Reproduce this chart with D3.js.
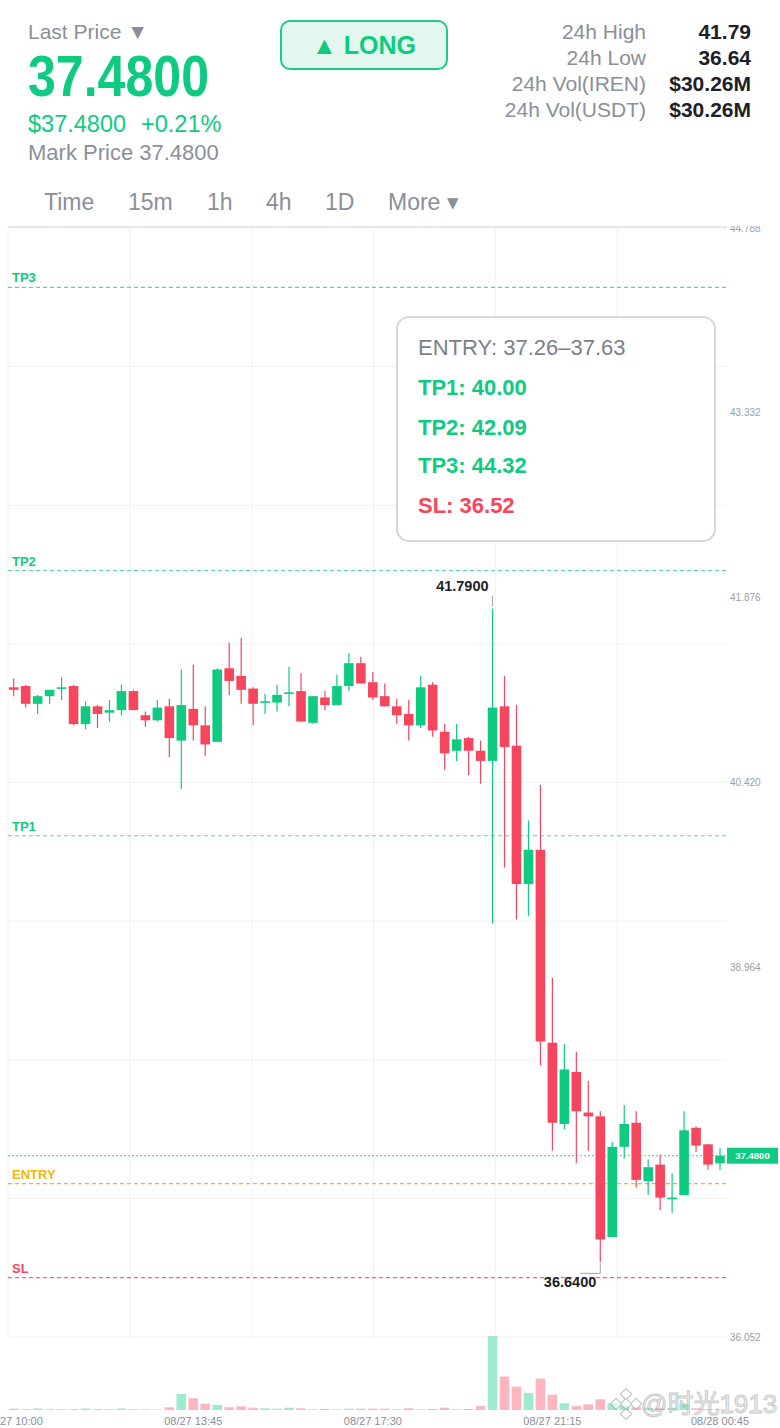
<!DOCTYPE html>
<html>
<head>
<meta charset="utf-8">
<script src="https://cdn.jsdelivr.net/npm/d3@7"></script>
<style>
  body { margin: 0; background: #fff; }
  svg { display: block; font-family: "Liberation Sans", Arial, "Noto Sans CJK SC", sans-serif; }
</style>
</head>
<body>
<svg id="chart"></svg>
<script>
var w = 780;
var h = 1428;

// 15m candles, 08/27 10:00 -> 08/28 00:45
var opens  = [41.17,41.18,41.04,41.10,41.16,41.18,40.88,41.02,40.97,40.99,41.14,40.95,40.91,41.02,40.75,41.00,40.87,40.74,41.32,41.26,
              41.16,41.05,41.05,41.12,41.14,40.89,41.09,41.03,41.18,41.36,41.21,41.10,41.02,40.96,40.87,41.19,40.82,40.67,40.77,40.67,
              40.59,41.02,40.71,39.62,39.89,38.37,37.73,38.14,37.82,37.79,36.84,37.55,37.74,37.28,37.41,37.14,37.17,37.70,37.57,37.42];
var highs  = [41.24,41.19,41.11,41.15,41.25,41.19,41.06,41.03,41.07,41.19,41.15,40.98,41.07,41.08,41.31,41.35,41.02,41.32,41.52,41.56,
              41.17,41.12,41.19,41.33,41.28,41.10,41.14,41.27,41.44,41.41,41.29,41.20,41.08,41.07,41.26,41.21,40.88,40.88,40.78,40.75,
              41.79,41.26,41.03,40.12,40.40,38.88,38.36,38.30,38.07,37.83,37.59,37.88,37.83,37.45,37.49,37.34,37.83,37.71,37.57,37.54];
var lows   = [41.10,41.01,40.96,41.04,41.07,40.87,40.84,40.85,40.90,40.95,40.99,40.86,40.90,40.62,40.37,40.75,40.63,40.74,41.11,41.04,
              40.87,40.96,40.98,41.02,40.90,40.88,40.99,41.03,41.14,41.20,41.07,41.02,40.88,40.75,40.85,40.78,40.52,40.59,40.48,40.41,
              39.31,39.75,39.34,39.37,38.19,37.52,37.69,37.42,37.52,36.64,36.84,37.46,37.23,37.17,37.05,37.03,37.17,37.51,37.37,37.37];
var closes = [41.15,41.04,41.10,41.15,41.17,40.88,41.02,40.96,40.99,41.14,40.99,40.91,41.01,40.77,41.03,40.87,40.72,41.31,41.22,41.15,
              41.04,41.06,41.11,41.13,40.90,41.10,41.03,41.18,41.36,41.20,41.09,41.02,40.95,40.87,41.17,40.83,40.65,40.76,40.67,40.59,
              41.01,40.70,39.62,39.89,38.38,37.74,38.16,37.83,37.79,36.82,37.55,37.73,37.29,37.39,37.15,37.15,37.68,37.56,37.41,37.48];
var volumes = [13,8,15,8,8,8,15,8,8,15,8,6,6,27,160,117,63,50,27,37,
               23,17,13,23,17,7,10,7,13,13,13,13,7,17,7,10,23,7,10,40,
               737,333,233,170,313,153,67,40,57,107,67,40,27,23,17,17,63,17,10,8];

var timeLabels = ["08/27 10:00", "08/27 13:45", "08/27 17:30", "08/27 21:15", "08/28 00:45"];
var timeLabelIndex = [0, 15, 30, 45, 59];
// 37.508 sits under the last-price tag in the original, so it is left out
var priceTicks = [44.788, 43.332, 41.876, 40.420, 38.964, 36.052];
var levelNames = ["TP3", "TP2", "TP1", "ENTRY", "SL"];
var levelValues = [44.32, 42.09, 40.00, 37.26, 36.52];
var lastPrice = 37.48;
var boxLines = ["ENTRY: 37.26\u201337.63", "TP1: 40.00", "TP2: 42.09", "TP3: 44.32", "SL: 36.52"];
var statLabels = ["24h High", "24h Low", "24h Vol(IREN)", "24h Vol(USDT)"];
var statValues = ["41.79", "36.64", "$30.26M", "$30.26M"];
var tabs = ["Time", "15m", "1h", "4h", "1D", "More \u25BE"];
var tabX = [44, 128, 207, 266, 325, 388];

var green = "#0ecb81", red = "#f6465d", yellow = "#f0b90b", grey = "#8a8f99", dark = "#1e2026";

var svg = d3.select("#chart").attr("width", w).attr("height", h);

var x = d3.scaleLinear().domain([0, opens.length - 1]).range([13.7, 720]);
var y = d3.scaleLinear().domain([36.052, 44.788]).range([1337, 228]);
var yv = d3.scaleLinear().domain([0, d3.max(volumes)]).range([1410, 1336]);
var gx = d3.scaleLinear().domain([0, 6]).range([8, 739]);
var plotRight = 727;
var bodyW = 9.6;

var idx = d3.range(opens.length);
var isUp = i => closes[i] >= opens[i];

// grid
var grid = svg.append("g");
grid.selectAll(".hg")
    .data(d3.range(9).map(k => 36.052 + k * (44.788 - 36.052) / 8))
    .enter().append("line")
    .attr("x1", 8).attr("x2", plotRight)
    .attr("y1", d => y(d)).attr("y2", d => y(d))
    .style("stroke", "#f0f1f3").style("stroke-width", 1);
grid.selectAll(".vg")
    .data(d3.range(6))
    .enter().append("line")
    .attr("x1", d => gx(d)).attr("x2", d => gx(d))
    .attr("y1", 228).attr("y2", 1337)
    .style("stroke", "#f0f1f3").style("stroke-width", 1);

// right price axis
svg.append("g").selectAll("text")
    .data(priceTicks)
    .enter().append("text")
    .attr("x", 730).attr("y", d => y(d) + 3.5)
    .style("font-size", "10px").style("fill", "#9a9ea6")
    .text(d => d.toFixed(3));

// volume
svg.append("g").selectAll("rect")
    .data(idx)
    .enter().append("rect")
    .attr("x", i => x(i) - bodyW / 2)
    .attr("width", bodyW)
    .attr("y", i => yv(volumes[i]))
    .attr("height", i => yv(0) - yv(volumes[i]))
    .style("fill", i => isUp(i) ? "#9febcf" : "#fdb6c0");

// level lines
var levels = svg.append("g");
var levelColor = n => n === "ENTRY" ? yellow : (n === "SL" ? red : "#3fcf98");
var levelText = n => n === "ENTRY" ? "#f0b90b" : (n === "SL" ? red : green);
levels.selectAll("line")
    .data(levelNames)
    .enter().append("line")
    .attr("x1", 8).attr("x2", plotRight)
    .attr("y1", (d, i) => y(levelValues[i])).attr("y2", (d, i) => y(levelValues[i]))
    .style("stroke", levelColor)
    .style("stroke-width", d => d === "ENTRY" ? 1.4 : 1.1)
    .style("stroke-dasharray", "4,3")
    .style("opacity", d => d === "ENTRY" ? 1 : 0.85);
levels.selectAll("text")
    .data(levelNames)
    .enter().append("text")
    .attr("x", 12).attr("y", (d, i) => y(levelValues[i]) - 5)
    .style("font-size", "13px").style("font-weight", "bold")
    .style("fill", levelText)
    .text(d => d);

// last price line
svg.append("line")
    .attr("x1", 8).attr("x2", plotRight)
    .attr("y1", y(lastPrice)).attr("y2", y(lastPrice))
    .style("stroke", "#3fcf98").style("stroke-width", 1)
    .style("stroke-dasharray", "2,2");

// candles
var candles = svg.append("g").selectAll("g")
    .data(idx)
    .enter().append("g");
candles.append("line")
    .attr("x1", i => x(i)).attr("x2", i => x(i))
    .attr("y1", i => y(highs[i])).attr("y2", i => y(lows[i]))
    .style("stroke", i => isUp(i) ? green : red)
    .style("stroke-width", 1.2);
candles.append("rect")
    .attr("x", i => x(i) - bodyW / 2)
    .attr("width", bodyW)
    .attr("y", i => y(Math.max(opens[i], closes[i])))
    .attr("height", i => Math.max(1.6, Math.abs(y(opens[i]) - y(closes[i]))))
    .style("fill", i => isUp(i) ? green : red);

// high / low markers
var hi = d3.maxIndex(highs), lo = d3.minIndex(lows);
svg.append("line")
    .attr("x1", x(hi)).attr("x2", x(hi))
    .attr("y1", y(highs[hi]) - 13).attr("y2", y(highs[hi]) - 2)
    .style("stroke", "#a0a4aa").style("stroke-width", 1);
svg.append("text")
    .attr("x", x(hi) - 4).attr("y", y(highs[hi]) - 18)
    .attr("text-anchor", "end")
    .style("font-size", "14.5px").style("font-weight", "bold").style("fill", dark)
    .text(highs[hi].toFixed(4));
svg.append("path")
    .attr("d", d3.line()([[x(lo), y(lows[lo]) + 1], [x(lo), y(lows[lo]) + 11], [x(lo) - 20, y(lows[lo]) + 11]]))
    .style("fill", "none").style("stroke", "#a0a4aa").style("stroke-width", 1);
svg.append("text")
    .attr("x", x(lo) - 4).attr("y", y(lows[lo]) + 25)
    .attr("text-anchor", "end")
    .style("font-size", "14.5px").style("font-weight", "bold").style("fill", dark)
    .text(lows[lo].toFixed(4));

// last price tag
svg.append("rect")
    .attr("x", plotRight).attr("y", y(lastPrice) - 8)
    .attr("width", 51).attr("height", 16)
    .style("fill", green);
svg.append("text")
    .attr("x", plotRight + 25.5).attr("y", y(lastPrice) + 3.5)
    .attr("text-anchor", "middle")
    .style("font-size", "9.5px").style("font-weight", "bold").style("fill", "#fff")
    .text(lastPrice.toFixed(4));

// time axis
svg.append("g").selectAll("text")
    .data(timeLabels)
    .enter().append("text")
    .attr("x", (d, i) => x(timeLabelIndex[i])).attr("y", 1425)
    .attr("text-anchor", "middle")
    .style("font-size", "11px").style("fill", grey)
    .text(d => d);

// info box
var box = svg.append("g");
box.append("rect")
    .attr("x", 397).attr("y", 317).attr("width", 318).attr("height", 224)
    .attr("rx", 12)
    .style("fill", "#fff").style("stroke", "#d4d7db").style("stroke-width", 2);
box.selectAll("text")
    .data(boxLines)
    .enter().append("text")
    .attr("x", 418)
    .attr("y", (d, i) => [355, 395, 435, 473, 513][i])
    .style("font-size", "22px")
    .style("font-weight", (d, i) => i === 0 ? "normal" : "bold")
    .style("fill", (d, i) => i === 0 ? "#7b808c" : (i === 4 ? red : green))
    .text(d => d);

// watermark
var wm = svg.append("g").style("opacity", 0.55);
var logo = wm.append("g").attr("transform", "translate(626,1404) rotate(45)");
[[-7, -7], [7, -7], [-7, 7], [7, 7], [0, 0]].forEach(function (p) {
    logo.append("rect")
        .attr("x", p[0] - 4).attr("y", p[1] - 4).attr("width", 8).attr("height", 8)
        .style("fill", "#fff").style("stroke", "#9aa0a6").style("stroke-width", 1.3);
});
wm.append("text")
    .attr("x", 641).attr("y", 1413)
    .style("font-size", "26px")
    .style("fill", "#e4e6e9").style("stroke", "#9aa0a6").style("stroke-width", 1)
    .text("@\u65F6\u51491913");

// header cover (clips the top of the chart)
svg.append("rect").attr("x", 0).attr("y", 0).attr("width", w).attr("height", 226).style("fill", "#fff");
svg.append("line")
    .attr("x1", 8).attr("x2", plotRight).attr("y1", 227).attr("y2", 227)
    .style("stroke", "#e6e8eb").style("stroke-width", 2);

var head = svg.append("g");
head.append("text").attr("x", 28).attr("y", 38.5)
    .style("font-size", "21px").style("fill", grey).text("Last Price \u25BC");
head.append("text").attr("x", 28).attr("y", 96)
    .attr("textLength", 181).attr("lengthAdjust", "spacingAndGlyphs")
    .style("font-size", "57px").style("font-weight", "bold").style("fill", green)
    .text("37.4800");
head.append("text").attr("x", 28).attr("y", 132)
    .style("font-size", "23.5px").style("fill", green).text("$37.4800");
head.append("text").attr("x", 141).attr("y", 132)
    .style("font-size", "23.5px").style("fill", green).text("+0.21%");
head.append("text").attr("x", 28).attr("y", 160)
    .style("font-size", "22px").style("fill", grey).text("Mark Price 37.4800");

head.append("rect")
    .attr("x", 281).attr("y", 21).attr("width", 166).attr("height", 48).attr("rx", 9)
    .style("fill", "#e2f8ee").style("stroke", "#1ecb8a").style("stroke-width", 2);
head.append("text").attr("x", 364).attr("y", 54)
    .attr("text-anchor", "middle")
    .style("font-size", "25px").style("font-weight", "bold").style("fill", green)
    .text("\u25B2 LONG");

head.selectAll(".sl")
    .data(statLabels)
    .enter().append("text")
    .attr("x", 646).attr("y", (d, i) => 38.5 + i * 26)
    .attr("text-anchor", "end")
    .style("font-size", "21px").style("fill", grey)
    .text(d => d);
head.selectAll(".sv")
    .data(statValues)
    .enter().append("text")
    .attr("x", 751).attr("y", (d, i) => 38.5 + i * 26)
    .attr("text-anchor", "end")
    .style("font-size", "21px").style("font-weight", "bold").style("fill", dark)
    .text(d => d);

head.selectAll(".tab")
    .data(tabs)
    .enter().append("text")
    .attr("x", (d, i) => tabX[i]).attr("y", 210)
    .style("font-size", "23px").style("fill", grey)
    .text(d => d);
</script>
</body>
</html>
